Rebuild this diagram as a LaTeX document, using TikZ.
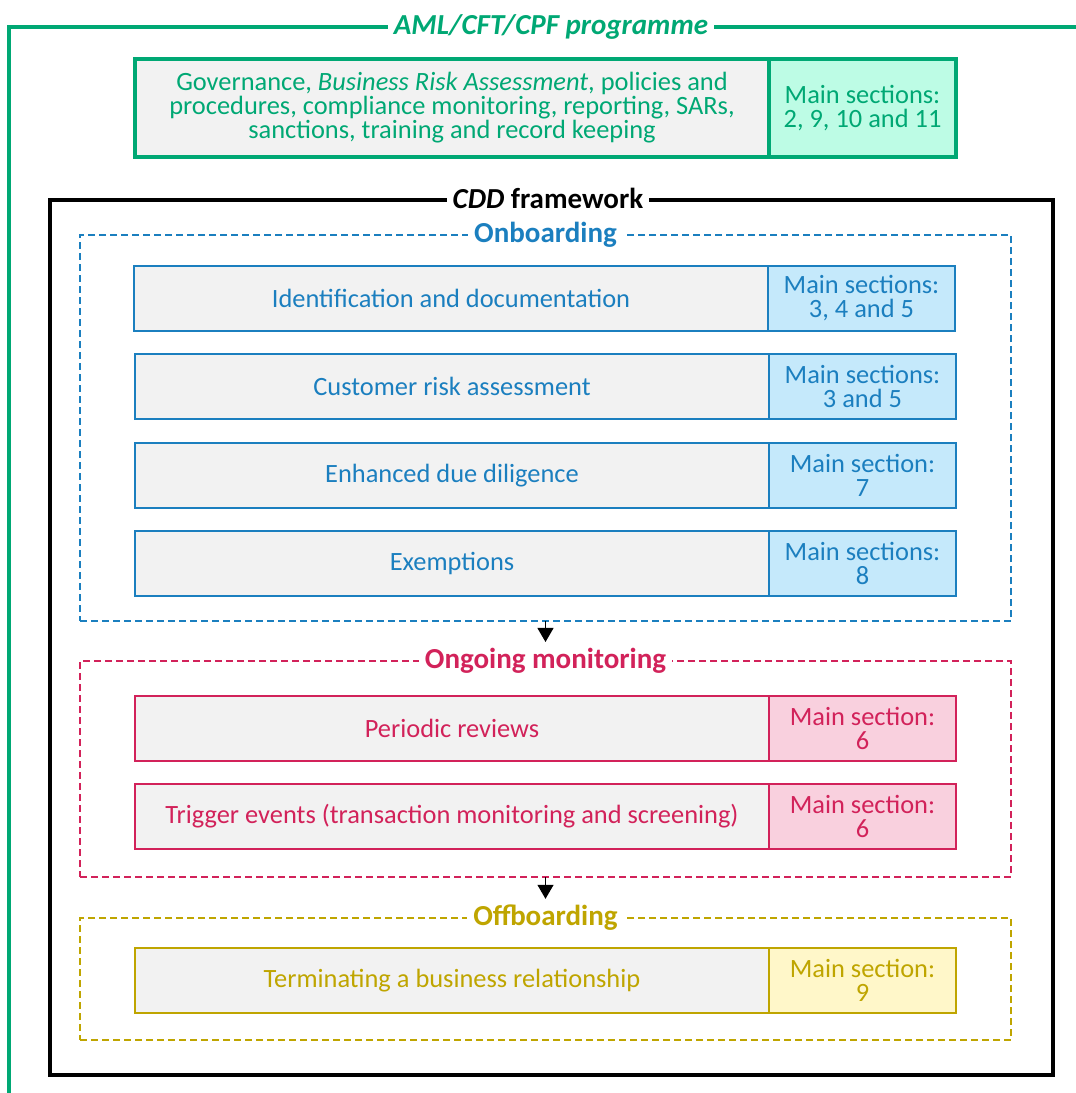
\documentclass[tikz,border=0pt]{standalone}
\usepackage{fontspec}
\setmainfont{Carlito}
\usetikzlibrary{arrows.meta}
\definecolor{progreen}{HTML}{00A874}
\definecolor{profill}{HTML}{BDFCE5}
\definecolor{obblue}{HTML}{1B7FBF}
\definecolor{obfill}{HTML}{C5E9FB}
\definecolor{omred}{HTML}{D2225A}
\definecolor{omfill}{HTML}{F9D0DE}
\definecolor{offgold}{HTML}{BFA500}
\definecolor{offfill}{HTML}{FFF7C9}
\definecolor{boxgray}{HTML}{F2F2F2}
\begin{document}
\begin{tikzpicture}[x=0.5pt, y=-0.5pt,
    txt/.style={font=\fontsize{13.2}{12}\selectfont, align=center},
    taskbox/.style={txt, draw=#1, text=#1, line width=1.4pt, fill=boxgray, outer sep=0pt,
      minimum width=317pt, minimum height=32.5pt, inner sep=2pt},
    secbox/.style 2 args={txt, draw=#1, text=#1, fill=#2, line width=1.4pt, outer sep=0pt,
      minimum width=93.5pt, minimum height=32.5pt, inner sep=1pt},
    phase/.style={draw=#1, dash pattern=on 3.5pt off 2pt, line width=1pt,
      outer sep=0pt, minimum width=465.5pt, anchor=north west},
    phasetitle/.style={text=#1, fill=white, inner sep=3pt, font=\fontsize{14.5}{16}\selectfont\bfseries},
    flow/.style={-{Triangle[length=7pt, width=8pt]}, line width=0.6pt}]
  \useasboundingbox (0,0) rectangle (1076,1093);
  % programme frame (open at right and bottom)
  \draw[progreen, line width=1.6pt] (9,1093) -- (9,27) -- (1076,27);
  \node[phasetitle=progreen, font=\fontsize{14.5}{16}\selectfont\bfseries\itshape] (progtitle) at (551,27) {AML/CFT/CPF programme};
  \node[taskbox=progreen, line width=1.9pt, anchor=north west, minimum height=49pt] (prog) at (135,59)
    {Governance, \textit{Business Risk Assessment}, policies and\\procedures, compliance monitoring, reporting, SARs,\\sanctions, training and record keeping};
  \node[secbox={progreen}{profill}, line width=1.9pt, anchor=west, minimum height=49pt] (progsec) at (prog.east) {Main sections:\\2, 9, 10 and 11};
  % CDD framework
  \node[draw, line width=2pt, minimum width=501.5pt, minimum height=437.5pt, anchor=north west] (cdd) at (48,198) {};
  \node[phasetitle=black] (cddtitle) at (548,198) {\textit{CDD} framework};
  % Onboarding
  \node[phase=obblue, minimum height=193pt] (onb) at (80,235) {};
  \node[phasetitle=obblue] (onbtitle) at (onb.north) {Onboarding};
  \node[taskbox=obblue, anchor=north west] (ident) at (134,266) {Identification and documentation};
  \node[secbox={obblue}{obfill}, anchor=west] (identsec) at (ident.east) {Main sections:\\3, 4 and 5};
  \node[taskbox=obblue, anchor=north west] (risk) at (135,354) {Customer risk assessment};
  \node[secbox={obblue}{obfill}, anchor=west] (risksec) at (risk.east) {Main sections:\\3 and 5};
  \node[taskbox=obblue, anchor=north west] (edd) at (135,443) {Enhanced due diligence};
  \node[secbox={obblue}{obfill}, anchor=west] (eddsec) at (edd.east) {Main section:\\7};
  \node[taskbox=obblue, anchor=north west] (exempt) at (135,531) {Exemptions};
  \node[secbox={obblue}{obfill}, anchor=west] (exemptsec) at (exempt.east) {Main sections:\\8};
  % Ongoing monitoring
  \node[phase=omred, minimum height=108pt] (ongo) at (80,661) {};
  \node[phasetitle=omred] (ongotitle) at (ongo.north) {Ongoing monitoring};
  \node[taskbox=omred, anchor=north west] (review) at (135,696) {Periodic reviews};
  \node[secbox={omred}{omfill}, anchor=west] (reviewsec) at (review.east) {Main section:\\6};
  \node[taskbox=omred, anchor=north west] (trigger) at (135,784) {Trigger events (transaction monitoring and screening)};
  \node[secbox={omred}{omfill}, anchor=west] (triggersec) at (trigger.east) {Main section:\\6};
  % Offboarding
  \node[phase=offgold, minimum height=61pt] (offb) at (80,918) {};
  \node[phasetitle=offgold] (offbtitle) at (offb.north) {Offboarding};
  \node[taskbox=offgold, anchor=north west] (term) at (135,948) {Terminating a business relationship};
  \node[secbox={offgold}{offfill}, anchor=west] (termsec) at (term.east) {Main section:\\9};
  % arrows between phases
  \draw[flow] (onb.south -| onbtitle) -- (ongotitle.north);
  \draw[flow] (ongo.south -| ongotitle) -- (offbtitle.north);
\end{tikzpicture}
\end{document}
